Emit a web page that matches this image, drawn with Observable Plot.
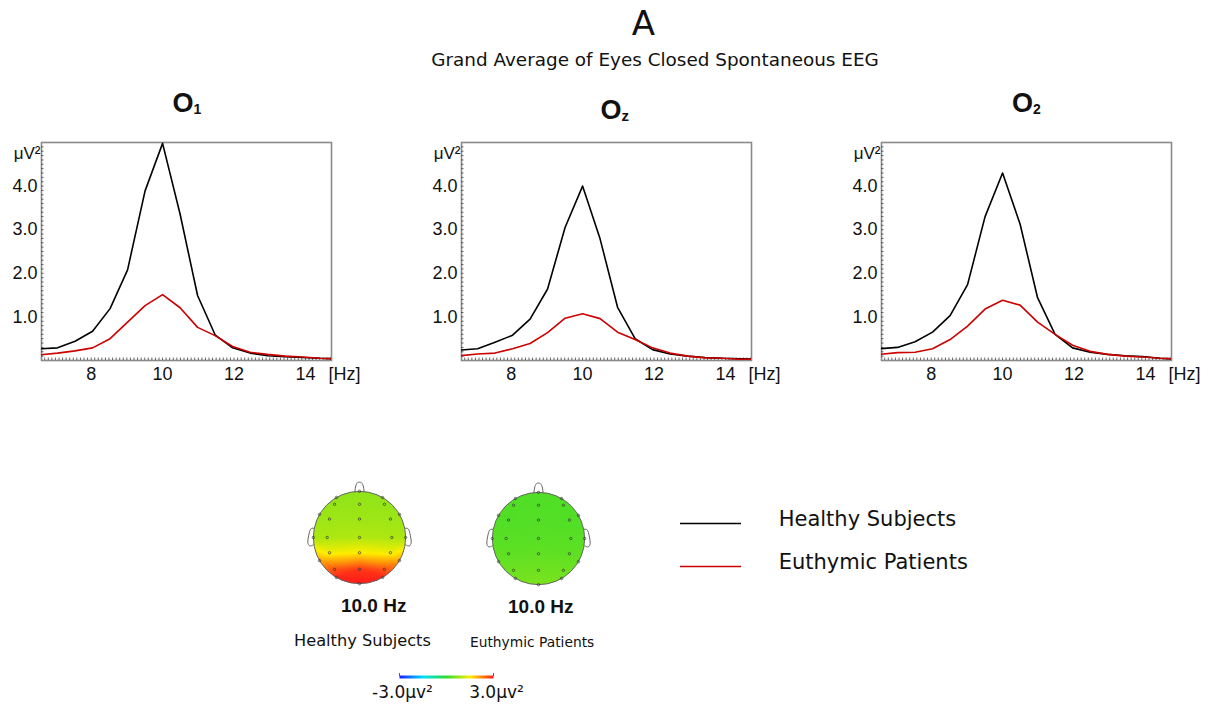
<!DOCTYPE html>
<html>
<head>
<meta charset="utf-8">
<script src="https://cdn.jsdelivr.net/npm/d3@7"></script>
<script src="https://cdn.jsdelivr.net/npm/@observablehq/plot@0.6"></script>
<style>
  html, body { margin: 0; padding: 0; background: #fff; }
  #page { position: relative; width: 1211px; height: 711px; overflow: hidden; background: #fff; }
  #page > .abs { position: absolute; }
  #overlay { position: absolute; left: 0; top: 0; pointer-events: none; z-index: 5; }
</style>
</head>
<body>
<div id="page">
  <svg id="overlay" width="1211" height="711">
    <text x="643.5" y="35" text-anchor="middle" font-family="DejaVu Sans" font-size="34" fill="#111">A</text>
    <text x="655" y="66" text-anchor="middle" font-family="DejaVu Sans" font-size="18.4" fill="#111">Grand Average of Eyes Closed Spontaneous EEG</text>
    <text x="172.5" y="111.5" font-family="Liberation Sans, Arial" font-weight="bold" font-size="27" fill="#111">O<tspan font-size="14" dy="2">1</tspan></text>
    <text x="600.5" y="119" font-family="Liberation Sans, Arial" font-weight="bold" font-size="27" fill="#111">O<tspan font-size="15" dy="2">z</tspan></text>
    <text x="1012" y="111.5" font-family="Liberation Sans, Arial" font-weight="bold" font-size="27" fill="#111">O<tspan font-size="14" dy="2">2</tspan></text>
    <text x="373.7" y="611.5" text-anchor="middle" font-family="Liberation Sans, Arial" font-weight="bold" font-size="19" fill="#111">10.0 Hz</text>
    <text x="540.8" y="613" text-anchor="middle" font-family="Liberation Sans, Arial" font-weight="bold" font-size="19" fill="#111">10.0 Hz</text>
    <text x="294" y="646" font-family="DejaVu Sans" font-size="16.2" fill="#111">Healthy Subjects</text>
    <text x="470" y="646.5" font-family="DejaVu Sans" font-size="13.8" fill="#111">Euthymic Patients</text>
  </svg>
</div>
<script>
// ---------------- data ----------------
const groups = ["Healthy Subjects", "Euthymic Patients"];
const freqs = [6.57, 7.06, 7.55, 8.04, 8.53, 9.02, 9.51, 10.0, 10.49, 10.98, 11.47, 11.96, 12.45, 12.94, 13.43, 13.92, 14.41, 14.90];
const o1Healthy   = [0.27, 0.29, 0.44, 0.67, 1.19, 2.08, 3.89, 4.98, 3.36, 1.49, 0.59, 0.29, 0.17, 0.11, 0.09, 0.07, 0.05, 0.04];
const o1Euthymic  = [0.13, 0.17, 0.22, 0.29, 0.50, 0.88, 1.26, 1.51, 1.21, 0.76, 0.57, 0.32, 0.19, 0.14, 0.10, 0.08, 0.05, 0.04];
const ozHealthy   = [0.24, 0.27, 0.42, 0.58, 0.95, 1.64, 3.05, 4.00, 2.79, 1.22, 0.50, 0.25, 0.15, 0.10, 0.07, 0.05, 0.04, 0.03];
const ozEuthymic  = [0.11, 0.15, 0.17, 0.27, 0.39, 0.64, 0.97, 1.07, 0.96, 0.65, 0.48, 0.29, 0.17, 0.10, 0.06, 0.05, 0.03, 0.03];
const o2Healthy   = [0.27, 0.30, 0.43, 0.65, 1.03, 1.74, 3.30, 4.30, 3.13, 1.44, 0.60, 0.29, 0.19, 0.14, 0.11, 0.09, 0.05, 0.03];
const o2Euthymic  = [0.14, 0.18, 0.19, 0.27, 0.48, 0.79, 1.18, 1.38, 1.27, 0.88, 0.60, 0.35, 0.21, 0.14, 0.10, 0.08, 0.05, 0.04];
const xTicks = [8, 10, 12, 14];
const yTicks = [1, 2, 3, 4];
const xDomain = [6.61, 14.73];
const yDomain = [0, 5];

// electrode montage (unit head) and 10.0 Hz map values (µV²)
const montageX = [-0.54, 0, 0.54, -0.65, 0, 0.67, -0.70, 0, 0.70, -0.65, 0, 0.67, -0.54, 0, 0.54,
                  0, 0.5, 0.866, 1, 0.866, 0.5, 0, -0.5, -0.866, -1, -0.866, -0.5];
const montageY = [0.72, 0.72, 0.72, 0.40, 0.40, 0.40, 0, 0, 0, -0.33, -0.33, -0.33, -0.69, -0.69, -0.69,
                  1, 0.866, 0.5, 0, -0.5, -0.866, -1, -0.866, -0.5, 0, 0.5, 0.866];
const mapHealthy  = [0.75, 0.75, 0.75, 0.80, 0.80, 0.80, 0.90, 0.95, 0.90, 1.40, 1.50, 1.40, 2.60, 2.80, 2.60,
                     0.70, 0.70, 0.78, 0.90, 2.00, 2.90, 3.00, 2.90, 2.00, 0.90, 0.78, 0.70];
const mapEuthymic = [0.25, 0.25, 0.25, 0.25, 0.27, 0.25, 0.30, 0.30, 0.30, 0.35, 0.37, 0.35, 0.45, 0.47, 0.45,
                     0.25, 0.25, 0.25, 0.30, 0.40, 0.50, 0.55, 0.50, 0.40, 0.30, 0.25, 0.25];
const noseX = [-0.10, -0.08, -0.04, 0, 0.04, 0.08, 0.10];
const noseY = [0.99, 1.12, 1.19, 1.20, 1.19, 1.12, 0.99];
const earX  = [0.99, 1.06, 1.10, 1.12, 1.08, 1.00];
const earY  = [0.20, 0.18, 0.05, -0.10, -0.18, -0.16];
const colorDomain = [-3, -1.5, 0, 1.5, 3];
const colorRange = ["#1a1aff", "#00e0ff", "#2edc2e", "#ffee00", "#ff1a1a"];
const colorbarTicks = [-3, 3];
const lineColors = ["#000000", "#cc0000"];

// ---------------- helpers ----------------
const page = document.getElementById("page");
function place(node, left, top) {
  node.classList.add("abs");
  node.style.left = left + "px";
  node.style.top = top + "px";
  page.appendChild(node);
}

function panel(healthy, euthymic) {
  const rows = freqs.flatMap((f, i) => [
    {f, v: healthy[i], g: groups[0]},
    {f, v: euthymic[i], g: groups[1]}
  ]);
  const xMinor = d3.range(67, 148).map(d => d / 10);
  const yMinor = d3.range(1, 50).map(d => d / 10);
  return Plot.plot({
    width: 400, height: 300,
    marginLeft: 41, marginRight: 69, marginTop: 42, marginBottom: 40,
    x: {domain: xDomain, label: null},
    y: {domain: yDomain, label: null},
    color: {domain: groups, range: lineColors},
    style: {fontFamily: "Liberation Sans, Arial, sans-serif", fontSize: "18px", color: "#111", background: "transparent", overflow: "visible"},
    marks: [
      Plot.frame({stroke: "#8a8a8a", strokeWidth: 1.6}),
      Plot.axisX(xMinor, {tickSize: -2.5, tickFormat: () => "", stroke: "#444", strokeWidth: 0.8}),
      Plot.axisY(yMinor, {tickSize: -2.5, tickFormat: () => "", stroke: "#444", strokeWidth: 0.8}),
      Plot.axisX(xTicks, {tickSize: 0, tickPadding: 7, tickFormat: d => String(d), fontSize: 18}),
      Plot.axisY(yTicks, {tickSize: 0, tickPadding: 4, tickFormat: d => d.toFixed(1), fontSize: 18}),
      Plot.line(rows, {x: "f", y: "v", z: "g", stroke: "g", strokeWidth: 1.6, clip: true}),
      Plot.text(["μV²"], {frameAnchor: "top-left", textAnchor: "end", dx: -1, dy: 4, fontSize: 17}),
      Plot.text(["[Hz]"], {frameAnchor: "bottom-right", textAnchor: "start", lineAnchor: "top", dx: -3, dy: 7, fontSize: 18})
    ]
  });
}

function head(values) {
  const pts = montageX.map((x, i) => ({x, y: montageY[i], v: values[i]}));
  const nose = noseX.map((x, i) => ({x, y: noseY[i]}));
  const earR = earX.map((x, i) => ({x, y: earY[i]}));
  const earL = earX.map((x, i) => ({x: -x, y: earY[i]}));
  const R = 120 / 2.6;
  return Plot.plot({
    width: 120, height: 120, margin: 0,
    x: {domain: [-1.3, 1.3], axis: null},
    y: {domain: [-1.3, 1.3], axis: null},
    color: {type: "linear", domain: colorDomain, range: colorRange},
    style: {background: "transparent", overflow: "hidden"},
    marks: [
      Plot.raster(pts, {x: "x", y: "y", fill: "v", interpolate: "barycentric", x1: -1.02, y1: -1.02, x2: 1.02, y2: 1.02, pixelSize: 1}),
      Plot.dot([0], {x: () => 0, y: () => 0, r: R + 12, stroke: "white", strokeWidth: 24, fill: "none"}),
      Plot.dot([0], {x: () => 0, y: () => 0, r: R, stroke: "#666", strokeWidth: 1, fill: "none"}),
      Plot.line(nose, {x: "x", y: "y", curve: "natural", stroke: "#666", strokeWidth: 1}),
      Plot.line(earR, {x: "x", y: "y", curve: "natural", stroke: "#666", strokeWidth: 1}),
      Plot.line(earL, {x: "x", y: "y", curve: "natural", stroke: "#666", strokeWidth: 1}),
      Plot.dot(pts, {x: "x", y: "y", r: 1.2, stroke: "#333", strokeWidth: 0.7, fill: "none"})
    ]
  });
}

function colorbar() {
  return Plot.plot({
    width: 200, height: 51,
    marginLeft: 50, marginRight: 56, marginTop: 15, marginBottom: 33,
    x: {domain: [-3, 3], axis: null},
    y: {domain: [0, 1], axis: null},
    color: {type: "linear", domain: colorDomain, range: colorRange},
    style: {fontFamily: "DejaVu Sans, sans-serif", background: "transparent", overflow: "visible"},
    marks: [
      Plot.raster({x1: -3, x2: 3, y1: 0, y2: 1, width: 94, height: 1, fill: (x, y) => x, imageRendering: "auto"}),
      Plot.tickX(colorbarTicks, {x: d => d, stroke: "#333", strokeWidth: 0.8, dy: -2}),
      Plot.text(colorbarTicks, {x: d => d, text: d => d.toFixed(1) + "μv²", frameAnchor: "bottom", lineAnchor: "top", dy: 7, dx: 3, fontSize: 17, fill: "#111"})
    ]
  });
}

function legend() {
  return Plot.plot({
    width: 310, height: 100, margin: 0,
    x: {domain: [0, 310 / 61], axis: null},
    y: {type: "point", domain: groups, range: [33, 76.7], padding: 0, axis: null},
    color: {domain: groups, range: lineColors},
    style: {fontFamily: "DejaVu Sans, sans-serif", background: "transparent", overflow: "visible"},
    marks: [
      Plot.ruleY(groups, {y: d => d, x1: 0, x2: 1, stroke: d => d, strokeWidth: 1.4}),
      Plot.text(groups, {y: d => d, x: () => 1.61, text: d => d, textAnchor: "start", dy: -4.5, fontSize: 21, fill: "#111"})
    ]
  });
}

place(panel(o1Healthy, o1Euthymic), 0, 100);
place(panel(ozHealthy, ozEuthymic), 420, 100);
place(panel(o2Healthy, o2Euthymic), 840, 100);
place(head(mapHealthy), 359 - 60, 537 - 60);
place(head(mapEuthymic), 538 - 60, 538 - 60);
place(colorbar(), 349, 660);
place(legend(), 680, 490);
</script>
</body>
</html>
